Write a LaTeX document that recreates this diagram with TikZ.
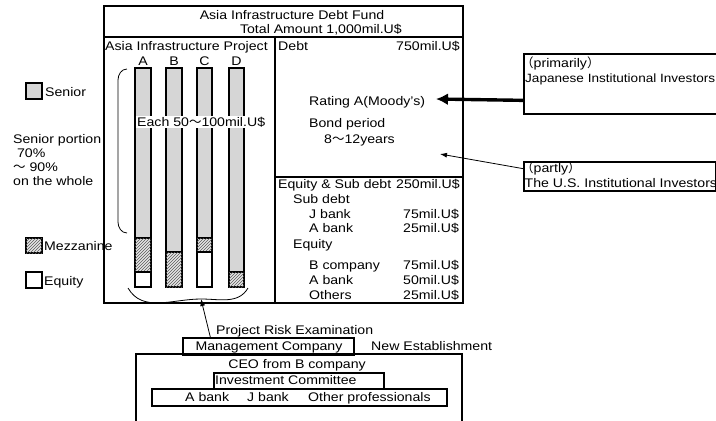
\documentclass[tikz,border=0pt]{standalone}
\usepackage{fontspec}
\setmainfont[FakeStretch=1.13]{Liberation Sans}
\newfontfamily\cjk{Noto Sans CJK JP}
\usetikzlibrary{arrows.meta,patterns,calc}
\newcommand{\mywave}{{\cjk 〜}}
\begin{document}
\begin{tikzpicture}[x=1pt,y=-1pt,
  font=\fontsize{12.5}{14}\selectfont,
  frame/.style={draw, line width=1.5pt},
  box/.style={draw, line width=1.5pt, inner sep=0pt, anchor=north west},
  tl/.style={inner sep=0pt, anchor=west, text height=9pt, text depth=0pt},
  tr/.style={inner sep=0pt, anchor=east, text height=9pt, text depth=0pt},
  tc/.style={inner sep=0pt, text height=9pt, text depth=0pt},
  senior/.style={draw, line width=1.5pt, fill=black!16},
  mezz/.style={draw, line width=1.5pt, fill=black!10, postaction={pattern=north east lines, pattern color=black!65}},
  equity/.style={draw, line width=1.5pt, fill=white},
  thin/.style={line width=0.8pt}
]
\clip (0,0) rectangle (716,421);
\fill[white] (0,0) rectangle (716,421);

% ---- fund frame
\node[box, minimum width=359pt, minimum height=297pt] (fund) at (103,5) {};
\draw[frame] (103,37) -- (462,37);
\draw[frame] (275,37) -- (275,302);
\draw[frame] (275,177) -- (462,177);

\node[tc] (t1) at (292,15) {Asia Infrastructure Debt Fund};
\node[tr] (t2) at (402,29) {Total Amount 1,000mil.U\$};

% ---- left panel
\node[tl] (proj) at (105,46) {Asia Infrastructure Project};
\node[tc] (la) at (143,61) {A};
\node[tc] (lb) at (174,61) {B};
\node[tc] (lc) at (204.5,61) {C};
\node[tc] (ld) at (236.5,61) {D};

% bars
\draw[senior] (135,68) rectangle (151,238);
\draw[mezz]   (135,238) rectangle (151,272);
\draw[equity] (135,272) rectangle (151,287);
\draw[senior] (166,68) rectangle (182,252);
\draw[mezz]   (166,252) rectangle (182,287);
\draw[senior] (197,68) rectangle (212,238);
\draw[mezz]   (197,238) rectangle (212,252);
\draw[equity] (197,252) rectangle (212,287);
\draw[senior] (229,68) rectangle (244,272);
\draw[mezz]   (229,272) rectangle (244,287);

\node[tl, fill=white, inner sep=1.5pt] (each) at (135.5,122) {Each 50\mywave100mil.U\$};

% left bracket
\draw[thin] (127,69) to[out=180,in=90] (118,80) -- (118,222) to[out=-90,in=180] (127,233);
% bottom bracket
\draw[thin] (128,288) to[out=-60,in=180] (201,299) to[out=0,in=-120] (248,288);
\coordinate (bt) at (201,299);

% legend
\draw[senior] (26,83) rectangle (42,99);
\node[tl] (ls) at (45,92) {Senior};
\draw[mezz] (26,238) rectangle (42,253);
\node[tl] (lm) at (44,246) {Mezzanine};
\draw[equity] (26,272) rectangle (42,288);
\node[tl] (le) at (44,281) {Equity};

\node[tl] (sp1) at (13,139) {Senior portion};
\node[tl] (sp2) at (13,153) {\ 70\%};
\node[tl] (sp3) at (13,167) {\mywave\ 90\%};
\node[tl] (sp4) at (13,181) {on the whole};

% ---- debt panel
\node[tl] (debt) at (278,46) {Debt};
\node[tr] (debtv) at (460,46) {750mil.U\$};
\node[tl] (rating) at (309,101) {Rating A(Moody's)};
\node[tl] (bond) at (309,123) {Bond period};
\node[tl] (bondv) at (324,139) {8\mywave12years};
\coordinate (tipJ) at (436,99);
\coordinate (tipU) at (440,154);

% ---- equity panel
\node[tl] (eq) at (278,184) {Equity \& Sub debt};
\node[tr] (eqv) at (460,184) {250mil.U\$};
\node[tl] (sd) at (293,199) {Sub debt};
\node[tl] (jb) at (309,214) {J bank};
\node[tl] (jbv) at (403,214) {75mil.U\$};
\node[tl] (ab1) at (309,228) {A bank};
\node[tl] (ab1v) at (403,228) {25mil.U\$};
\node[tl] (eqt) at (293,244) {Equity};
\node[tl] (bc) at (309,265) {B company};
\node[tl] (bcv) at (403,265) {75mil.U\$};
\node[tl] (ab2) at (309,280) {A bank};
\node[tl] (ab2v) at (403,280) {50mil.U\$};
\node[tl] (oth) at (309,295) {Others};
\node[tl] (othv) at (403,295) {25mil.U\$};

% ---- investors
\node[box, minimum width=200pt, minimum height=60pt] (jp) at (523,53) {};
\node[tl] (jp1) at (521,63) {{\cjk （}primarily{\cjk ）}};
\node[tl, font=\fontsize{12}{14}\selectfont] (jp2) at (525,78) {Japanese Institutional Investors};
\node[box, minimum width=191.5pt, minimum height=29pt] (us) at (523,161) {};
\node[tl] (us1) at (521,168) {{\cjk （}partly{\cjk ）}};
\node[tl] (us2) at (524.5,183) {The U.S. Institutional Investors};

\draw[line width=3.4pt, -{Latex[length=12pt,width=12pt]}] ($(jp.north west)!0.77!(jp.south west)$) -- (tipJ);
\draw[line width=0.8pt, -{Latex[length=7pt,width=5pt]}] ($(us.north west)!0.25!(us.south west)$) -- (tipU);

% ---- management
\node[tl] (pre) at (216,330) {Project Risk Examination};
\node[box, minimum width=171pt, minimum height=17pt] (mg) at (182,337) {};
\node[tc] (mgt) at (269,346) {Management Company};
\node[tl] (ne) at (371,346) {New Establishment};
\draw[line width=1.5pt] (136,440) -- (136,354) -- (462,354) -- (462,440);
\node[tc] (ceo) at (297,364) {CEO from B company};
\node[box, minimum width=170pt, minimum height=16pt] (ic) at (213,372) {};
\node[tl] (ict) at (215,380) {Investment Committee};
\node[box, minimum width=295pt, minimum height=17pt] (mem) at (151,388) {};
\node[tl] (m1) at (185,396.5) {A bank};
\node[tl] (m2) at (247,396.5) {J bank};
\node[tl] (m3) at (308,396.5) {Other professionals};

\draw[line width=0.8pt, -{Latex[length=7pt,width=5pt]}] ($(mg.north west)!0.164!(mg.north east)$) -- (bt);
\end{tikzpicture}
\end{document}
